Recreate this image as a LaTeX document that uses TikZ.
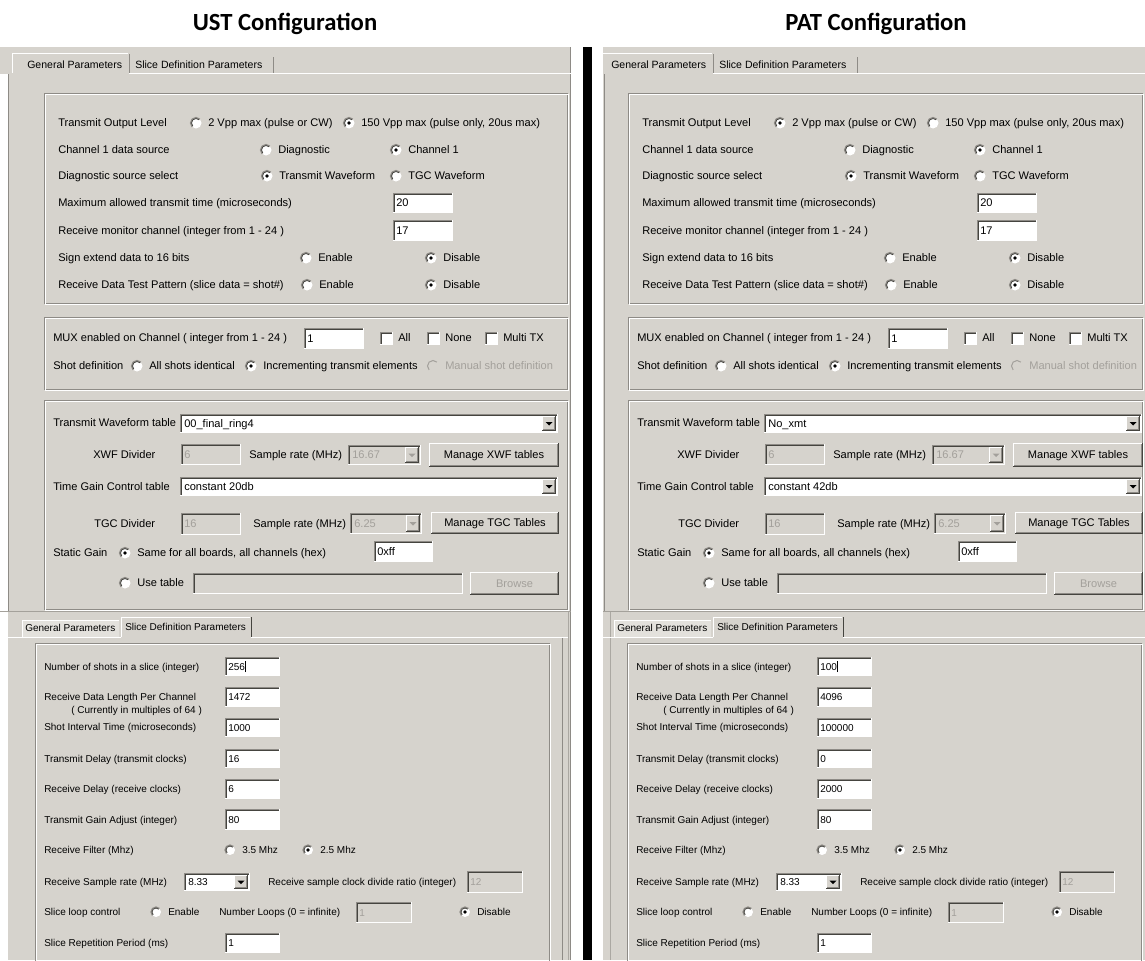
\documentclass[tikz,border=0pt]{standalone}
\usepackage{fontspec}
\setmainfont{Liberation Sans}
\newfontfamily\titlefont{Carlito}

\definecolor{panel}{HTML}{D6D3CD}
\definecolor{midgray}{HTML}{8E8B86}
\definecolor{darkgray}{HTML}{45443F}
\definecolor{distext}{HTML}{A3A09B}
\definecolor{tablite}{HTML}{E3E1DC}

\newcommand{\fs}[1]{\fontsize{#1}{#1}\selectfont}
\newcommand{\uifont}{\fs{8.3}}
\newcommand{\rr}{5.5}

\tikzset{
  lbl/.style={anchor=mid west, inner sep=0pt, font=\uifont, text=black},
  ttl/.style={anchor=base, inner sep=0pt, font=\titlefont\bfseries\fs{18.5}},
  uiline/.style={line width=0.75pt},
}

% sunken frame: x1 y1 x2 y2 fill
\newcommand{\uisunken}[5]{%
  \fill[#5] (#1,#2) rectangle (#3,#4);
  \draw[uiline, midgray] (#1+0.5,#4) -- (#1+0.5,#2+0.5) -- (#3,#2+0.5);
  \draw[uiline, darkgray] (#1+1.5,#4-1) -- (#1+1.5,#2+1.5) -- (#3-1,#2+1.5);
  \draw[uiline, white] (#1,#4-0.5) -- (#3-0.5,#4-0.5) -- (#3-0.5,#2);
}
% raised frame: x1 y1 x2 y2
\newcommand{\uiraised}[4]{%
  \fill[panel] (#1,#2) rectangle (#3,#4);
  \draw[uiline, white] (#1+0.5,#4-1) -- (#1+0.5,#2+0.5) -- (#3-1,#2+0.5);
  \draw[uiline, darkgray] (#1,#4-0.5) -- (#3-0.5,#4-0.5) -- (#3-0.5,#2);
  \draw[uiline, midgray] (#1+1,#4-1.5) -- (#3-1.5,#4-1.5) -- (#3-1.5,#2+1);
}
% edit field: x1 y1 x2 y2 text
\newcommand{\uitext}[5]{%
  \uisunken{#1}{#2}{#3}{#4}{white}
  \node[lbl] at (#1+3,{(#2+#4)/2}) {#5};
}
% disabled edit field
\newcommand{\uidis}[5]{%
  \uisunken{#1}{#2}{#3}{#4}{panel}
  \node[lbl, text=distext] at (#1+3,{(#2+#4)/2}) {#5};
}
% drop-down arrow button: x1 y1 x2 y2 arrow colour
\newcommand{\uidrop}[5]{%
  \uiraised{#1}{#2}{#3}{#4}
  \fill[#5] ({(#1+#3)/2-3.5},{(#2+#4)/2-1.5}) -- ++(7,0) -- ++(-3.5,3.5) -- cycle;
}
% combo box: x1 y1 x2 y2 text enabled
\newcommand{\uicombo}[6]{%
  \ifnum#6=1
    \uisunken{#1}{#2}{#3}{#4}{white}
    \node[lbl] at (#1+4,{(#2+#4)/2}) {#5};
    \uidrop{#3-16}{#2+2}{#3-2}{#4-2}{black}
  \else
    \uisunken{#1}{#2}{#3}{#4}{panel}
    \node[lbl, text=distext] at (#1+4,{(#2+#4)/2}) {#5};
    \uidrop{#3-16}{#2+2}{#3-2}{#4-2}{distext}
  \fi
}
% push button: x1 y1 x2 y2 text colour
\newcommand{\uibutton}[6]{%
  \uiraised{#1}{#2}{#3}{#4}
  \node[anchor=mid, inner sep=0pt, font=\uifont, text=#6] at ({(#1+#3)/2},{(#2+#4)/2}) {#5};
}
% radio button: x y state(0 off,1 on,2 disabled) label
\newcommand{\uiradio}[4]{%
  \ifnum#3=2
    \fill[panel] (#1,#2) circle[radius=\rr];
    \draw[uiline, distext] (#1,#2) ++(135:\rr) arc[start angle=135, end angle=315, radius=\rr];
    \node[lbl, text=distext] at (#1+12,#2) {#4};
  \else
    \fill[white] (#1,#2) circle[radius=\rr];
    \draw[line width=0.9pt, midgray] (#1,#2) ++(135:\rr) arc[start angle=135, end angle=315, radius=\rr];
    \draw[line width=0.6pt, darkgray] (#1,#2) ++(135:{\rr-1}) arc[start angle=135, end angle=315, radius={\rr-1}];
    \ifnum#3=1 \fill[black] (#1,#2) circle[radius=1.8]; \fi
    \node[lbl] at (#1+12,#2) {#4};
  \fi
}
% check box: x(left) y label
\newcommand{\uicheck}[3]{%
  \uisunken{#1}{#2-6.5}{#1+13}{#2+6.5}{white}
  \node[lbl] at (#1+18,#2) {#3};
}
% etched group frame
\newcommand{\uigroup}[4]{%
  \draw[uiline, midgray] (#1,#2) rectangle (#3,#4);
  \draw[uiline, white] (#1+1,#2+1) rectangle (#3+1,#4+1);
}

% General Parameters page:
% shift, TOL low state, TOL high state, waveform table, TGC table, right edge of frames
\newcommand{\upperpanel}[6]{%
\begin{scope}[shift={(#1,0)}]
  \renewcommand{\uifont}{\fs{8.3}}
  % tab strip
  \draw[uiline, white] (12,73) -- (12,53.5) -- (128,53.5);
  \draw[uiline, midgray] (129,54) -- (129,73);
  \draw[uiline, midgray] (273,57) -- (273,73);
  \draw[uiline, white] (129,73.5) -- (575,73.5);
  \node[lbl, font=\fs{7.9}] at (27,65) {General Parameters};
  \node[lbl, font=\fs{7.9}] at (135,65) {Slice Definition Parameters};
  % transmit settings
  \uigroup{44}{93}{#6}{303}
  \node[lbl] at (58,123) {Transmit Output Level};
  \uiradio{196}{123}{#2}{2 Vpp max (pulse or CW)}
  \uiradio{349}{123}{#3}{150 Vpp max (pulse only, 20us max)}
  \node[lbl] at (58,150) {Channel 1 data source};
  \uiradio{266}{150}{0}{Diagnostic}
  \uiradio{396}{150}{1}{Channel 1}
  \node[lbl] at (58,176) {Diagnostic source select};
  \uiradio{267}{176}{1}{Transmit Waveform}
  \uiradio{396}{176}{0}{TGC Waveform}
  \node[lbl] at (58,203) {Maximum allowed transmit time (microseconds)};
  \uitext{393}{193}{453}{213}{20}
  \node[lbl] at (58,231) {Receive monitor channel (integer from 1 - 24 )};
  \uitext{393}{220}{453}{241}{17}
  \node[lbl] at (58,258) {Sign extend data to 16 bits};
  \uiradio{306}{258}{0}{Enable}
  \uiradio{431}{258}{1}{Disable}
  \node[lbl] at (58,285) {Receive Data Test Pattern (slice data = shot\#)};
  \uiradio{307}{285}{0}{Enable}
  \uiradio{431}{285}{1}{Disable}
  % multiplexer settings
  \uigroup{44}{317}{#6}{389}
  \node[lbl] at (53,338) {MUX enabled on Channel ( integer from 1 - 24 )};
  \uitext{304}{328}{364}{349}{1}
  \uicheck{380}{338}{All}
  \uicheck{427}{338}{None}
  \uicheck{485}{338}{Multi TX}
  \node[lbl] at (53,366) {Shot definition};
  \uiradio{137}{366}{0}{All shots identical}
  \uiradio{251}{366}{1}{Incrementing transmit elements}
  \uiradio{433}{366}{2}{Manual shot definition}
  % waveform and gain tables
  \uigroup{44}{400}{#6}{609}
  \node[lbl] at (53,423) {Transmit Waveform table};
  \uicombo{180}{414}{558}{433}{#4}{1}
  \node[lbl] at (93,455) {XWF Divider};
  \uidis{181}{444}{241}{465}{6}
  \node[lbl] at (249,455) {Sample rate (MHz)};
  \uicombo{348}{445}{421}{465}{16.67}{0}
  \uibutton{429}{443}{559}{467}{Manage XWF tables}{black}
  \node[lbl] at (53,487) {Time Gain Control table};
  \uicombo{180}{477}{558}{496}{#5}{1}
  \node[lbl] at (94,524) {TGC Divider};
  \uidis{181}{513}{241}{535}{16}
  \node[lbl] at (253,524) {Sample rate (MHz)};
  \uicombo{350}{513}{422}{534}{6.25}{0}
  \uibutton{431}{512}{559}{534}{Manage TGC Tables}{black}
  \node[lbl] at (53,553) {Static Gain};
  \uiradio{125}{553}{1}{Same for all boards, all channels (hex)}
  \uitext{374}{541}{433}{562}{0xff}
  \uiradio{125}{583}{0}{Use table}
  \uidis{193}{573}{463}{594}{}
  \uibutton{470}{572}{559}{595}{Browse}{distext}
\end{scope}}

% Slice Definition Parameters page: shift, then the six edit values
\newcommand{\lowerpanel}[7]{%
\begin{scope}[shift={(#1,0)}]
  \renewcommand{\uifont}{\fs{7.5}}
  \renewcommand{\rr}{5}
  % tab strip
  \fill[tablite] (22,620) rectangle (119,637);
  \draw[uiline, white] (22,637) -- (22,620) -- (119,620);
  \draw[uiline, white] (121,637) -- (121,617.5) -- (250,617.5);
  \draw[uiline, darkgray] (251,617) -- (251,637);
  \draw[uiline, white] (8,637.5) -- (121,637.5);
  \draw[uiline, white] (251,637.5) -- (568,637.5);
  \node[lbl] at (25,627.5) {General Parameters};
  \node[lbl] at (125,626.5) {Slice Definition Parameters};
  \draw[uiline, midgray] (562,638) -- (562,960);
  \draw[uiline, midgray!60!panel] (568,612) -- (568,960);
  \uigroup{35}{643}{549}{975}
  \node[lbl] at (44,667) {Number of shots in a slice (integer)};
  \uitext{225}{657}{280}{676}{#2\hspace{0.4pt}\rule[-1.5pt]{0.6pt}{8pt}}
  \node[lbl] at (44,697) {Receive Data Length Per Channel};
  \node[lbl] at (71,710) {( Currently in multiples of 64 )};
  \uitext{225}{687}{280}{707}{#3}
  \node[lbl] at (44,727) {Shot Interval Time (microseconds)};
  \uitext{225}{718}{280}{737}{#4}
  \node[lbl] at (44,759) {Transmit Delay (transmit clocks)};
  \uitext{225}{749}{280}{768}{#5}
  \node[lbl] at (44,789) {Receive Delay (receive clocks)};
  \uitext{225}{779}{280}{799}{#6}
  \node[lbl] at (44,820) {Transmit Gain Adjust (integer)};
  \uitext{225}{809}{280}{830}{#7}
  \node[lbl] at (44,850) {Receive Filter (Mhz)};
  \uiradio{230}{850}{0}{3.5 Mhz}
  \uiradio{308}{850}{1}{2.5 Mhz}
  \node[lbl] at (44,882) {Receive Sample rate (MHz)};
  \uicombo{184}{873}{250}{891}{8.33}{1}
  \node[lbl] at (268,882) {Receive sample clock divide ratio (integer)};
  \uidis{467}{871}{523}{893}{12}
  \node[lbl] at (44,912) {Slice loop control};
  \uiradio{156}{912}{0}{Enable}
  \node[lbl] at (219,912) {Number Loops (0 = infinite)};
  \uidis{356}{902}{412}{923}{1}
  \uiradio{465}{912}{1}{Disable}
  \node[lbl] at (44,943) {Slice Repetition Period (ms)};
  \uitext{225}{933}{280}{953}{1}
\end{scope}}

\begin{document}
\begin{tikzpicture}[x=0.75pt,y=-0.75pt]
  \useasboundingbox (0,0) rectangle (1145,960);
  \clip (0,0) rectangle (1145,960);
  \fill[white] (0,0) rectangle (1145,960);

  % headings
  \node[ttl] (ust) at (285,30) {UST Configuration};
  \node[ttl] (pat) at (876,30) {PAT Configuration};

  % window backgrounds
  \fill[panel] (0,47) rectangle (571,611);
  \fill[panel] (603,47) rectangle (1145,611);
  \fill[panel] (8,611) rectangle (571,960);
  \fill[panel] (603,611) rectangle (1145,960);
  \fill[white] (0,74) rectangle (7.5,960);
  \draw[uiline, midgray] (8,74) -- (8,611);
  \draw[uiline, midgray] (604,74) -- (604,611);
  \draw[uiline, midgray] (570.5,47) -- (570.5,960);
  \draw[uiline, midgray!60!panel] (610,612) -- (610,960);
  \draw[uiline, midgray!70!panel] (0,611) -- (571,611);
  \draw[uiline, midgray!70!panel] (603,611) -- (1145,611);

  \upperpanel{0}{0}{1}{00\_final\_ring4}{constant 20db}{567}
  \upperpanel{584}{1}{0}{No\_xmt}{constant 42db}{558}
  \lowerpanel{0}{256}{1472}{1000}{16}{6}{80}
  \lowerpanel{592}{100}{4096}{100000}{0}{2000}{80}

  % separator between the two configurations
  \fill[black] (583,47) rectangle (592,960);
\end{tikzpicture}
\end{document}
